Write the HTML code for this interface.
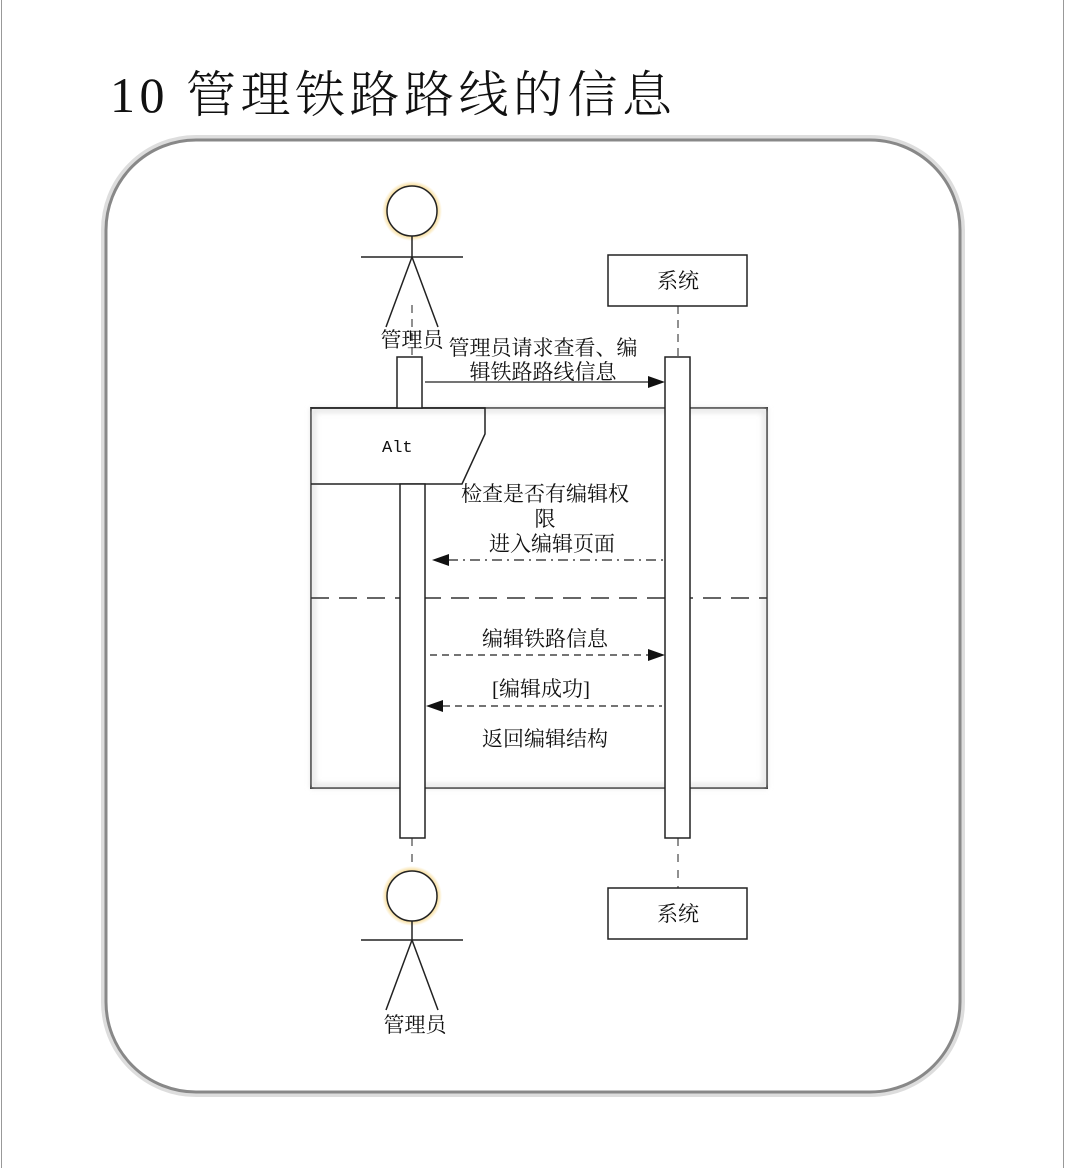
<!DOCTYPE html>
<html><head><meta charset="utf-8"><style>
html,body{margin:0;padding:0;background:#fff;}
svg{display:block;}
text{font-family:"Liberation Serif","Noto Serif CJK SC","Noto Sans CJK SC",serif;fill:#111;}
</style></head><body>
<svg width="1065" height="1168" viewBox="0 0 1065 1168" xmlns="http://www.w3.org/2000/svg">
<defs>
<filter id="sh" x="-5%" y="-5%" width="110%" height="110%"><feGaussianBlur stdDeviation="3"/></filter>
<radialGradient id="glow"><stop offset="0.8" stop-color="#f5d27a"/><stop offset="1" stop-color="#f5d27a" stop-opacity="0"/></radialGradient>
</defs>
<line x1="1.5" y1="0" x2="1.5" y2="1168" stroke="#999" stroke-width="1"/>
<line x1="1063.5" y1="0" x2="1063.5" y2="1168" stroke="#999" stroke-width="1"/>
<text x="110" y="112" font-size="50" letter-spacing="4.5" style="font-family:'Liberation Serif','Noto Serif CJK SC',serif;font-weight:300">10 管理铁路路线的信息</text>
<rect x="104" y="138" width="858" height="956" rx="92" fill="none" stroke="#ddd" stroke-width="6"/>
<rect x="106" y="140" width="854" height="952" rx="90" fill="none" stroke="#888" stroke-width="3"/>
<!-- alt frame -->
<rect x="311" y="408" width="456" height="380" fill="#fff" stroke="#222" stroke-width="2"/>
<rect x="313" y="410" width="452" height="376" fill="none" stroke="#ddd" stroke-width="4" filter="url(#sh)"/>
<path d="M311 408 H485 V434 L462 484 H311" fill="none" stroke="#222" stroke-width="1.5"/>
<text x="382" y="452" font-size="17" style="font-family:'Liberation Mono',monospace">Alt</text>
<line x1="311" y1="598" x2="767" y2="598" stroke="#333" stroke-width="1.5" stroke-dasharray="18,10"/>
<!-- lifelines -->
<line x1="412" y1="305" x2="412" y2="357" stroke="#222" stroke-dasharray="8,6"/>
<line x1="678" y1="306" x2="678" y2="357" stroke="#222" stroke-dasharray="8,6"/>
<line x1="412" y1="838" x2="412" y2="868" stroke="#222" stroke-dasharray="8,8"/>
<line x1="678" y1="838" x2="678" y2="888" stroke="#222" stroke-dasharray="8,8"/>
<!-- actor top -->
<circle cx="412" cy="211" r="30" fill="url(#glow)"/>
<circle cx="412" cy="211" r="25" fill="#fff" stroke="#222" stroke-width="1.5"/>
<line x1="412" y1="236" x2="412" y2="257" stroke="#222" stroke-width="1.5"/>
<line x1="361" y1="257" x2="463" y2="257" stroke="#222" stroke-width="1.5"/>
<path d="M386 327 L412 257 L438 327" fill="none" stroke="#222" stroke-width="1.5"/>
<text x="412" y="347" font-size="21" text-anchor="middle">管理员</text>
<!-- actor bottom -->
<circle cx="412" cy="896" r="30" fill="url(#glow)"/>
<circle cx="412" cy="896" r="25" fill="#fff" stroke="#222" stroke-width="1.5"/>
<line x1="412" y1="921" x2="412" y2="940" stroke="#222" stroke-width="1.5"/>
<line x1="361" y1="940" x2="463" y2="940" stroke="#222" stroke-width="1.5"/>
<path d="M386 1010 L412 940 L438 1010" fill="none" stroke="#222" stroke-width="1.5"/>
<text x="415" y="1032" font-size="21" text-anchor="middle">管理员</text>
<!-- system boxes -->
<rect x="608" y="255" width="139" height="51" fill="#fff" stroke="#222" stroke-width="1.5"/>
<text x="678" y="288" font-size="21" text-anchor="middle">系统</text>
<rect x="608" y="888" width="139" height="51" fill="#fff" stroke="#222" stroke-width="1.5"/>
<text x="678" y="921" font-size="21" text-anchor="middle">系统</text>
<!-- activations -->
<rect x="397" y="357" width="25" height="51" fill="#fff" stroke="#222" stroke-width="1.5"/>
<rect x="400" y="484" width="25" height="354" fill="#fff" stroke="#222" stroke-width="1.5"/>
<rect x="665" y="357" width="25" height="481" fill="#fff" stroke="#222" stroke-width="1.5"/>
<!-- messages -->
<text x="543" y="355" font-size="21" text-anchor="middle">管理员请求查看、编</text>
<text x="543" y="379" font-size="21" text-anchor="middle">辑铁路路线信息</text>
<line x1="425" y1="382" x2="648" y2="382" stroke="#222" stroke-width="1.3"/>
<polygon points="665,382 648,376 648,388" fill="#111"/>
<text x="545" y="501" font-size="21" text-anchor="middle">检查是否有编辑权</text>
<text x="545" y="526" font-size="21" text-anchor="middle">限</text>
<text x="552" y="551" font-size="21" text-anchor="middle">进入编辑页面</text>
<line x1="448" y1="560" x2="664" y2="560" stroke="#222" stroke-width="1.3" stroke-dasharray="10,5,2,5"/>
<polygon points="432,560 449,554 449,566" fill="#111"/>
<text x="545" y="646" font-size="21" text-anchor="middle">编辑铁路信息</text>
<line x1="430" y1="655" x2="648" y2="655" stroke="#222" stroke-width="1.3" stroke-dasharray="7,5"/>
<polygon points="665,655 648,649 648,661" fill="#111"/>
<text x="541" y="696" font-size="21" text-anchor="middle">[编辑成功]</text>
<line x1="443" y1="706" x2="662" y2="706" stroke="#222" stroke-width="1.3" stroke-dasharray="7,5"/>
<polygon points="426,706 443,700 443,712" fill="#111"/>
<text x="545" y="746" font-size="21" text-anchor="middle">返回编辑结构</text>
</svg>
</body></html>
